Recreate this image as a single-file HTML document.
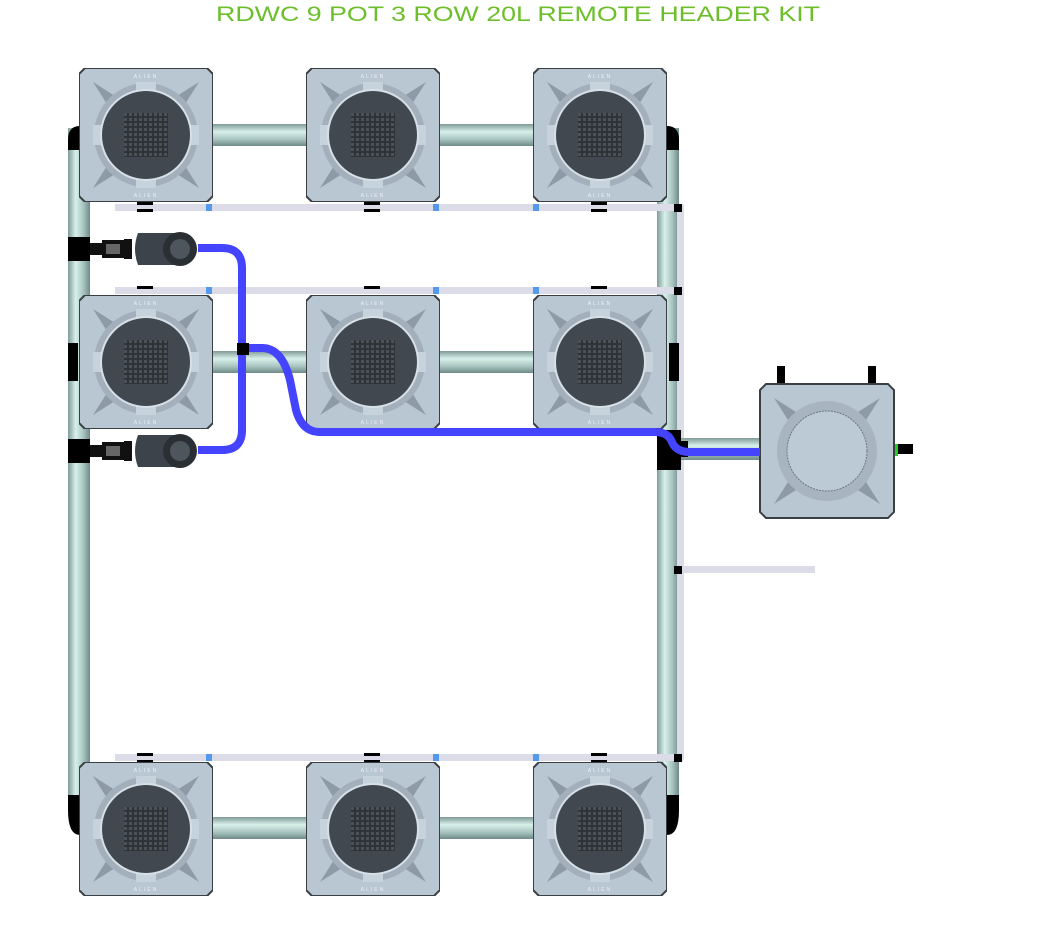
<!DOCTYPE html>
<html><head><meta charset="utf-8"><style>
html,body{margin:0;padding:0;background:#fff;width:1037px;height:943px;overflow:hidden}
</style></head><body>
<svg width="1037" height="943" viewBox="0 0 1037 943" xmlns="http://www.w3.org/2000/svg">
<defs>
<linearGradient id="pv" x1="0" x2="1" y1="0" y2="0">
<stop offset="0" stop-color="#7f9a98"/><stop offset="0.35" stop-color="#d8f0ea"/><stop offset="0.7" stop-color="#a8c4c0"/><stop offset="1" stop-color="#6f8a88"/></linearGradient>
<linearGradient id="ph" x1="0" x2="0" y1="0" y2="1">
<stop offset="0" stop-color="#7f9a98"/><stop offset="0.35" stop-color="#d8f0ea"/><stop offset="0.7" stop-color="#a8c4c0"/><stop offset="1" stop-color="#6f8a88"/></linearGradient>
<pattern id="grid" width="5" height="5" patternUnits="userSpaceOnUse">
<rect width="5" height="5" fill="#2e3338"/><rect width="3" height="3" fill="#4a5158"/></pattern>
<symbol id="pot" viewBox="0 0 134 134">
<path d="M6 0H128L134 6V128L128 134H6L0 128V6Z" fill="#b9c7d2" stroke="#3a3f44" stroke-width="2"/>
<path d="M14 14L55 40L40 55Z M120 14L79 40L94 55Z M14 120L55 94L40 79Z M120 120L79 94L94 79Z" fill="#8e9ba6"/>
<circle cx="67" cy="67" r="52" fill="#a3b0bb"/>
<rect x="57" y="14" width="20" height="14" fill="#c6d2dc"/>
<rect x="57" y="106" width="20" height="14" fill="#c6d2dc"/>
<rect x="14" y="57" width="14" height="20" fill="#c6d2dc"/>
<rect x="106" y="57" width="14" height="20" fill="#c6d2dc"/>
<circle cx="67" cy="67" r="46" fill="#d6e0e8"/>
<circle cx="67" cy="67" r="44" fill="#42484f"/>
<rect x="45" y="45" width="44" height="44" fill="url(#grid)"/>
<text x="67" y="10" font-size="5" fill="#eef" text-anchor="middle" font-family="Liberation Sans" letter-spacing="2">ALIEN</text>
<text x="67" y="129" font-size="5" fill="#eef" text-anchor="middle" font-family="Liberation Sans" letter-spacing="2">ALIEN</text>
</symbol>
<symbol id="pump" viewBox="0 0 132 40">
<rect x="0" y="8" width="22" height="24" fill="#000"/>
<rect x="22" y="14" width="12" height="12" fill="#111"/>
<rect x="34" y="11" width="22" height="18" fill="#111"/>
<rect x="38" y="15" width="14" height="10" fill="#666"/>
<rect x="56" y="10" width="8" height="20" fill="#111"/>
<path d="M70 4H108V36H70Q64 20 70 4Z" fill="#3c434a"/>
<circle cx="112" cy="20" r="17" fill="#2a2f34"/>
<circle cx="112" cy="20" r="10" fill="#4d555d"/>
</symbol>
</defs>

<text x="216" y="21" font-family="Liberation Sans, sans-serif" font-size="21" fill="#6cbf2a" textLength="604" lengthAdjust="spacingAndGlyphs">RDWC 9 POT 3 ROW 20L REMOTE HEADER KIT</text>

<!-- vertical pipes -->
<rect x="68" y="128" width="22" height="680" fill="url(#pv)"/>
<rect x="657" y="128" width="22" height="680" fill="url(#pv)"/>
<path d="M68 140Q68 126 80 126V150H68Z M68 795V810Q68 835 80 835V795Z" fill="#000"/>
<path d="M679 140Q679 126 667 126V150H679Z M679 795V810Q679 835 667 835V795Z" fill="#000"/>
<rect x="677" y="205" width="7" height="555" fill="#dcdbe8"/>
<!-- horizontal pipes -->
<rect x="210" y="124" width="100" height="22" fill="url(#ph)"/>
<rect x="437" y="124" width="100" height="22" fill="url(#ph)"/>
<rect x="210" y="351" width="100" height="22" fill="url(#ph)"/>
<rect x="437" y="351" width="100" height="22" fill="url(#ph)"/>
<rect x="210" y="817" width="100" height="22" fill="url(#ph)"/>
<rect x="437" y="817" width="100" height="22" fill="url(#ph)"/>
<rect x="680" y="438" width="82" height="22" fill="url(#ph)"/>
<!-- lavender lines -->
<rect x="115" y="204" width="568" height="7" fill="#dcdbe8"/>
<rect x="115" y="287" width="568" height="7" fill="#dcdbe8"/>
<rect x="115" y="754" width="568" height="7" fill="#dcdbe8"/>
<rect x="680" y="566" width="135" height="7" fill="#dcdbe8"/>
<g fill="#5599ee">
<rect x="206" y="204" width="6" height="7"/><rect x="433" y="204" width="6" height="7"/><rect x="533" y="204" width="6" height="7"/>
<rect x="206" y="287" width="6" height="7"/><rect x="433" y="287" width="6" height="7"/><rect x="533" y="287" width="6" height="7"/>
<rect x="206" y="754" width="6" height="7"/><rect x="433" y="754" width="6" height="7"/><rect x="533" y="754" width="6" height="7"/>
</g>
<g fill="#000">
<rect x="137" y="202" width="16" height="3"/><rect x="364" y="202" width="16" height="3"/><rect x="591" y="202" width="16" height="3"/>
<rect x="137" y="209" width="16" height="3"/><rect x="364" y="209" width="16" height="3"/><rect x="591" y="209" width="16" height="3"/>
<rect x="137" y="286" width="16" height="3"/><rect x="364" y="286" width="16" height="3"/><rect x="591" y="286" width="16" height="3"/>
<rect x="137" y="753" width="16" height="3"/><rect x="364" y="753" width="16" height="3"/><rect x="591" y="753" width="16" height="3"/>
<rect x="137" y="760" width="16" height="3"/><rect x="364" y="760" width="16" height="3"/><rect x="591" y="760" width="16" height="3"/>
<rect x="674" y="204" width="8" height="8"/><rect x="674" y="287" width="8" height="8"/><rect x="674" y="566" width="8" height="8"/><rect x="674" y="754" width="8" height="8"/>
<rect x="68" y="343" width="10" height="38"/><rect x="669" y="343" width="10" height="38"/>
<rect x="657" y="430" width="24" height="40"/>
<rect x="680" y="441" width="8" height="16"/>
<rect x="777" y="366" width="8" height="18"/><rect x="868" y="366" width="8" height="18"/>
<rect x="895" y="444" width="18" height="10"/>
</g>
<rect x="894" y="444" width="4" height="12" fill="#22cc22"/>

<!-- pots -->
<use href="#pot" x="79" y="68" width="134" height="134"/>
<use href="#pot" x="306" y="68" width="134" height="134"/>
<use href="#pot" x="533" y="68" width="134" height="134"/>
<use href="#pot" x="79" y="295" width="134" height="134"/>
<use href="#pot" x="306" y="295" width="134" height="134"/>
<use href="#pot" x="533" y="295" width="134" height="134"/>
<use href="#pot" x="79" y="762" width="134" height="134"/>
<use href="#pot" x="306" y="762" width="134" height="134"/>
<use href="#pot" x="533" y="762" width="134" height="134"/>

<!-- header tank -->
<path d="M766 384H888L894 390V512L888 518H766L760 512V390Z" fill="#b9c7d2" stroke="#3a3f44" stroke-width="2"/>
<path d="M774 398L815 424L800 439Z M880 398L839 424L854 439Z M774 504L815 478L800 463Z M880 504L839 478L854 463Z" fill="#8e9ba6"/>
<circle cx="827" cy="451" r="50" fill="#a8b5c0"/>
<circle cx="827" cy="451" r="40" fill="#bccad5" stroke="#6e7880" stroke-width="1" stroke-dasharray="2 1"/>

<!-- blue tubes -->
<g fill="none" stroke="#4444ff" stroke-width="8">
<path d="M198 248H222Q242 248 242 268V430Q242 450 222 450H198"/>
<path d="M244 348H262Q282 348 290 380L296 410Q302 432 320 432H655Q668 432 672 442Q676 452 690 452H760"/>
</g>
<rect x="237" y="343" width="12" height="12" fill="#000"/>

<!-- pumps -->
<use href="#pump" x="68" y="229" width="132" height="40"/>
<use href="#pump" x="68" y="431" width="132" height="40"/>
</svg>
</body></html>
